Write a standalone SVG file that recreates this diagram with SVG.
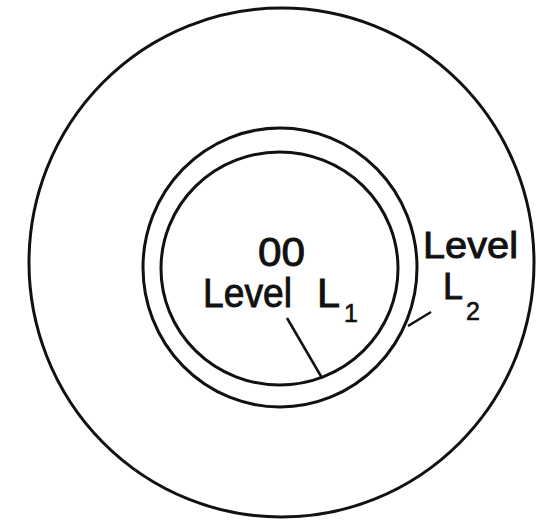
<svg xmlns="http://www.w3.org/2000/svg" width="543" height="522" viewBox="0 0 543 522">
<style>
.ring{fill:none;stroke:#111;stroke-width:3}
.lead{fill:none;stroke:#111;stroke-width:2.5}
.t{font-family:"Liberation Sans",Arial,sans-serif;fill:#111;stroke:#111;stroke-width:0.9;font-size:40px}
.r{font-size:36px}
.s{font-family:"Liberation Sans",Arial,sans-serif;fill:#111;stroke:#111;stroke-width:0.6;font-size:25px}
</style>
<rect width="543" height="522" fill="#fff"/>
<g id="outer"><ellipse class="ring" cx="281.5" cy="262.5" rx="252.5" ry="254.5"/></g>
<g id="level2"><ellipse class="ring" cx="280" cy="267.5" rx="137" ry="139.5"/>
<text class="t r" x="423" y="258" textLength="95" lengthAdjust="spacingAndGlyphs">Level</text>
<text class="t r" x="443" y="299" textLength="20" lengthAdjust="spacingAndGlyphs">L</text><text class="s" x="466" y="320">2</text></g>
<g id="level1"><ellipse class="ring" cx="279.5" cy="268.5" rx="118.5" ry="116.5"/>
<text class="t" x="258" y="266" textLength="47" lengthAdjust="spacingAndGlyphs">00</text>
<text class="t" x="203" y="307" textLength="89" lengthAdjust="spacingAndGlyphs">Level</text>
<text class="t" x="317" y="307" textLength="23" lengthAdjust="spacingAndGlyphs">L</text><text class="s" x="344" y="322">1</text></g>
<g id="connectors">
<line class="lead" x1="287" y1="318" x2="322" y2="378"/>
<line class="lead" x1="431" y1="312" x2="408" y2="326"/>
</g>
</svg>
